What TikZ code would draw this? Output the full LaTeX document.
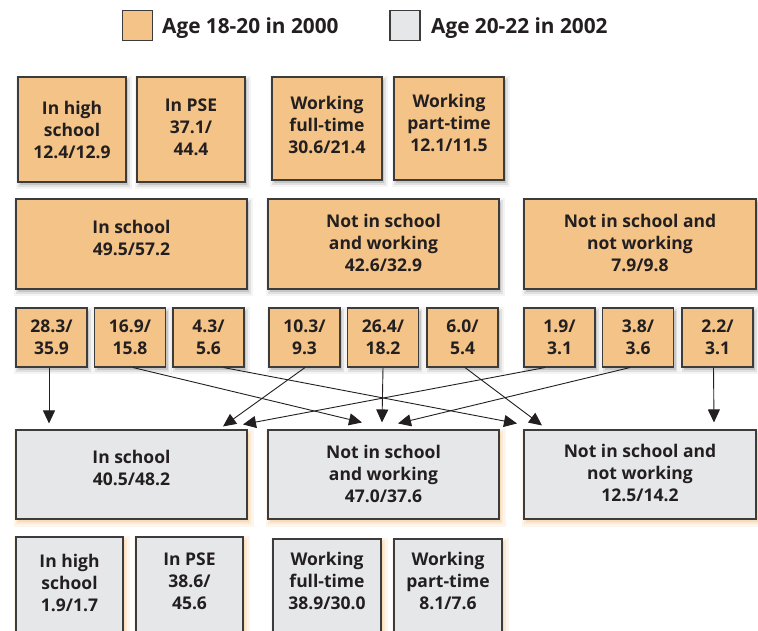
\documentclass[tikz,border=0pt]{standalone}
\usepackage{fontspec}
\setmainfont{Open Sans}
\usetikzlibrary{arrows.meta,shadows}
\definecolor{ofill}{HTML}{F3C387}
\definecolor{gfill}{HTML}{E6E7E8}
\definecolor{bord}{HTML}{3C3C3C}
\definecolor{ink}{HTML}{231F20}
\definecolor{oglow}{HTML}{F4B870}
\begin{document}
\begin{tikzpicture}[x=1pt,y=-1pt,
  box/.style={draw=bord, line width=1.1pt, inner sep=0pt, rectangle},
  oshad/.style={general shadow={shadow xshift=2pt, shadow yshift=-3pt, fill=black, draw=black, line width=8pt, opacity=0.045},
                general shadow={shadow xshift=2pt, shadow yshift=-3pt, fill=black, draw=black, line width=3.5pt, opacity=0.08}},
  gshad/.style={general shadow={shadow xshift=2pt, shadow yshift=-3pt, fill=oglow, draw=oglow, line width=9pt, opacity=0.13},
                general shadow={shadow xshift=2pt, shadow yshift=-3pt, fill=oglow, draw=oglow, line width=3.5pt, opacity=0.18}},
  obox/.style={box, oshad, fill=ofill},
  gbox/.style={box, gshad, fill=gfill},
  txt/.style={font=\fontsize{17.5}{22}\selectfont\bfseries, text=ink, align=center, inner sep=0pt},
  legtxt/.style={font=\fontsize{20.8}{24}\selectfont\bfseries, text=ink, inner sep=0pt, anchor=base west},
  arr/.style={draw=ink, line width=0.9pt, -{Triangle[length=13pt,width=12pt]}},
]
\useasboundingbox[fill=white] (0,0) rectangle (758,631);

% legend
\node[box, fill=ofill, minimum width=29.5pt, minimum height=30.5pt] (lo) at (137.5,25.5) {};
\node[legtxt] (lot) at (162,34) {Age 18-20 in 2000};
\node[box, fill=gfill, minimum width=30pt, minimum height=30.5pt] (lg) at (405,25.5) {};
\node[legtxt] (lgt) at (431,34) {Age 20-22 in 2002};

% top row (2000)
\node[obox, minimum width=108pt, minimum height=105pt] (t1) at (72,129.5) {};
\node[txt] (t1t) at (72,132) {\strut In high\\\strut school\\\strut 12.4/12.9};
\node[obox, minimum width=108pt, minimum height=105pt] (t2) at (191,129.5) {};
\node[txt] (t2t) at (191,129) {\strut In PSE\\\strut 37.1/\\\strut 44.4};
\node[obox, minimum width=110pt, minimum height=103pt] (t3) at (327,128.5) {};
\node[txt] (t3t) at (327,127) {\strut Working\\\strut full-time\\\strut 30.6/21.4};
\node[obox, minimum width=110pt, minimum height=103pt] (t4) at (449,128.5) {};
\node[txt] (t4t) at (449,125) {\strut Working\\\strut part-time\\\strut 12.1/11.5};

% middle row (2000)
\node[obox, minimum width=231pt, minimum height=90pt] (m1) at (131.5,244) {};
\node[txt] (m1t) at (131.5,240.5) {\strut In school\\\strut 49.5/57.2};
\node[obox, minimum width=231pt, minimum height=90pt] (m2) at (383.5,244) {};
\node[txt] (m2t) at (383.5,245) {\strut Not in school\\\strut and working\\\strut 42.6/32.9};
\node[obox, minimum width=232pt, minimum height=90pt] (m3) at (640,244) {};
\node[txt] (m3t) at (640,245) {\strut Not in school and\\\strut not working\\\strut 7.9/9.8};

% small transition boxes
\node[obox, minimum width=71pt, minimum height=59pt] (a1) at (51.5,337.5) {};
\node[txt] (a1t) at (51.5,339.5) {\strut 28.3/\\\strut 35.9};
\node[obox, minimum width=71pt, minimum height=59pt] (a2) at (130,337.5) {};
\node[txt] (a2t) at (130,339.5) {\strut 16.9/\\\strut 15.8};
\node[obox, minimum width=71pt, minimum height=59pt] (a3) at (208.5,337.5) {};
\node[txt] (a3t) at (208.5,339.5) {\strut 4.3/\\\strut 5.6};
\node[obox, minimum width=71pt, minimum height=59pt] (a4) at (304.5,337.5) {};
\node[txt] (a4t) at (304.5,339.5) {\strut 10.3/\\\strut 9.3};
\node[obox, minimum width=71pt, minimum height=59pt] (a5) at (383,337.5) {};
\node[txt] (a5t) at (383,339.5) {\strut 26.4/\\\strut 18.2};
\node[obox, minimum width=71pt, minimum height=59pt] (a6) at (462.5,337.5) {};
\node[txt] (a6t) at (462.5,339.5) {\strut 6.0/\\\strut 5.4};
\node[obox, minimum width=71pt, minimum height=59pt] (a7) at (559.5,337.5) {};
\node[txt] (a7t) at (559.5,339.5) {\strut 1.9/\\\strut 3.1};
\node[obox, minimum width=71pt, minimum height=59pt] (a8) at (638,337.5) {};
\node[txt] (a8t) at (638,339.5) {\strut 3.8/\\\strut 3.6};
\node[obox, minimum width=71pt, minimum height=59pt] (a9) at (717.5,337.5) {};
\node[txt] (a9t) at (717.5,339.5) {\strut 2.2/\\\strut 3.1};

% bottom row (2002)
\node[gbox, minimum width=231pt, minimum height=89pt] (b1) at (131.5,474.5) {};
\node[txt] (b1t) at (131.5,470.5) {\strut In school\\\strut 40.5/48.2};
\node[gbox, minimum width=231pt, minimum height=89pt] (b2) at (383.5,474.5) {};
\node[txt] (b2t) at (383.5,476) {\strut Not in school\\\strut and working\\\strut 47.0/37.6};
\node[gbox, minimum width=232pt, minimum height=89pt] (b3) at (640,474.5) {};
\node[txt] (b3t) at (640,475) {\strut Not in school and\\\strut not working\\\strut 12.5/14.2};

% lowest row (2002)
\node[gbox, minimum width=107pt, minimum height=105pt] (s1) at (69.5,589.5) {};
\node[txt] (s1t) at (69.5,585) {\strut In high\\\strut school\\\strut 1.9/1.7};
\node[gbox, minimum width=107pt, minimum height=105pt] (s2) at (189.5,589.5) {};
\node[txt] (s2t) at (189.5,583) {\strut In PSE\\\strut 38.6/\\\strut 45.6};
\node[gbox, minimum width=108pt, minimum height=105pt] (s3) at (327,591.5) {};
\node[txt] (s3t) at (327,583) {\strut Working\\\strut full-time\\\strut 38.9/30.0};
\node[gbox, minimum width=108pt, minimum height=105pt] (s4) at (448,591.5) {};
\node[txt] (s4t) at (448,583) {\strut Working\\\strut part-time\\\strut 8.1/7.6};

% arrows
\draw[arr] ([xshift=-2.5pt]a1.south) -- ([xshift=-82.5pt,yshift=6pt]b1.north);
\draw[arr] ([xshift=3pt]a2.south) -- ([xshift=-21.5pt,yshift=7pt]b2.north);
\draw[arr] ([xshift=15pt]a3.south) -- ([xshift=-123pt,yshift=6pt]b3.north);
\draw[arr] ([xshift=0.5pt]a4.south) -- ([xshift=91.5pt,yshift=3pt]b1.north);
\draw[arr] ([xshift=0pt]a5.south) -- ([xshift=-1.5pt,yshift=7pt]b2.north);
\draw[arr] ([xshift=2.5pt]a6.south) -- ([xshift=-98pt,yshift=4pt]b3.north);
\draw[arr] ([xshift=-14.5pt]a7.south) -- ([xshift=111.5pt,yshift=5pt]b1.north);
\draw[arr] ([xshift=-8pt]a8.south) -- ([xshift=14.5pt,yshift=6pt]b2.north);
\draw[arr] ([xshift=-4pt]a9.south) -- ([xshift=74pt,yshift=7pt]b3.north);
\end{tikzpicture}
\end{document}
